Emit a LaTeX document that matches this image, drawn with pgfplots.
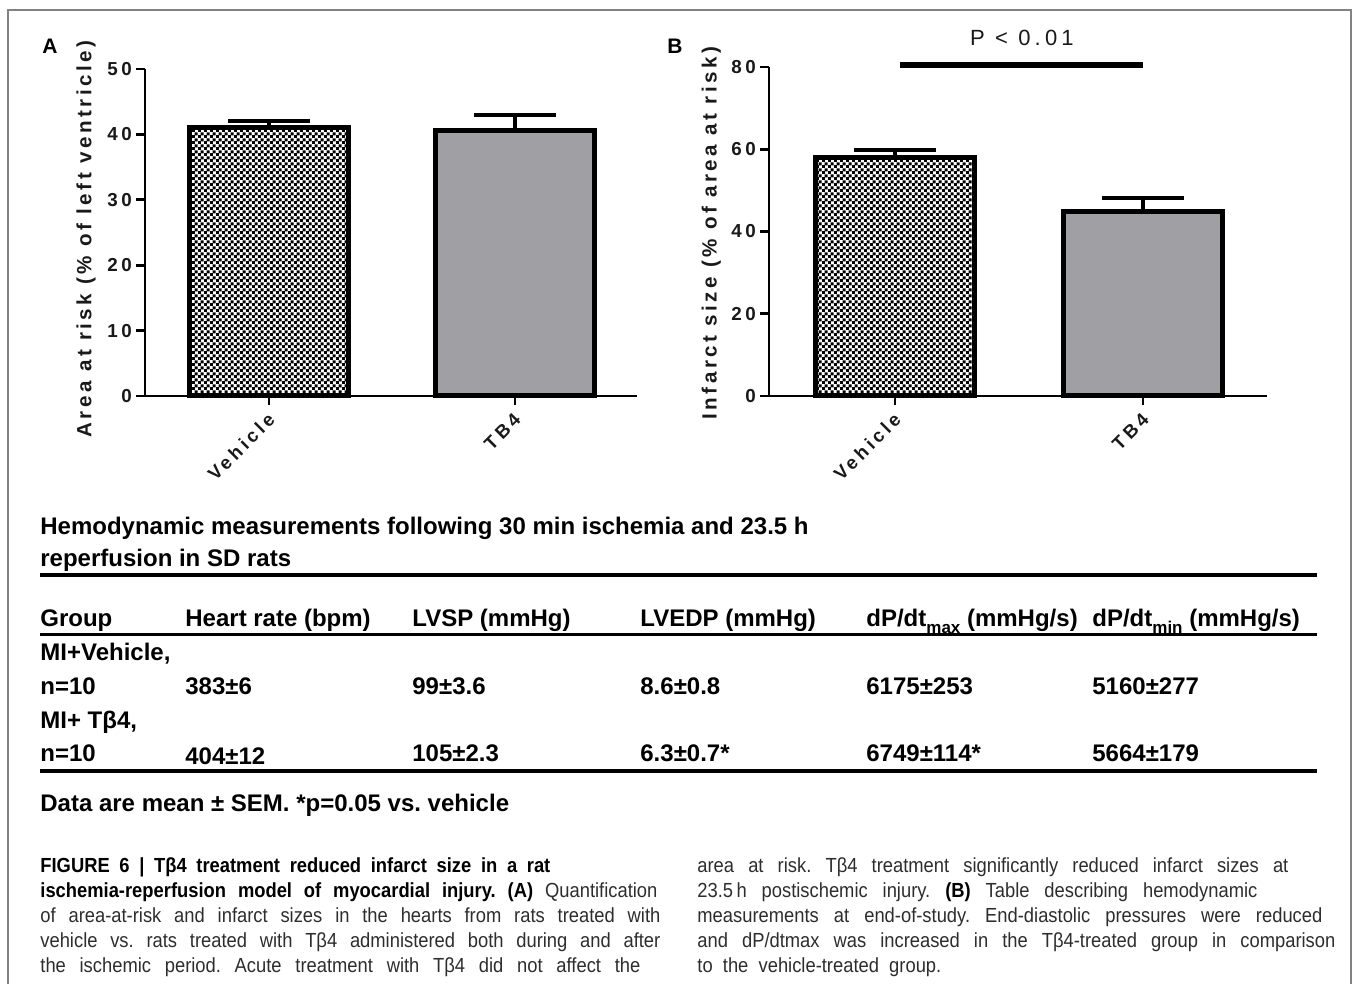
\documentclass[border=0pt]{standalone}
\usepackage{fontspec}
\setmainfont{Liberation Sans}
\newfontfamily\tickfont[LetterSpace=20]{Liberation Sans}
\newfontfamily\xtfont[LetterSpace=19]{Liberation Sans}
\newfontfamily\labfont[LetterSpace=17]{Liberation Sans}
\newfontfamily\pfont[LetterSpace=19]{Liberation Sans}
\newfontfamily\capfont[FakeStretch=0.9]{Liberation Sans}
\usepackage{pgfplots}
\pgfplotsset{compat=1.18}
\usetikzlibrary{patterns}
\pgfdeclarepatternformonly{finecheck}{\pgfpointorigin}{\pgfqpoint{3pt}{3pt}}{\pgfqpoint{3pt}{3pt}}{%
  \pgfpathrectangle{\pgfpointorigin}{\pgfqpoint{1.7pt}{1.7pt}}%
  \pgfpathrectangle{\pgfqpoint{1.5pt}{1.5pt}}{\pgfqpoint{1.7pt}{1.7pt}}%
  \pgfusepath{fill}}
\definecolor{tbgray}{RGB}{160,160,164}
\definecolor{captxt}{RGB}{45,45,45}
\definecolor{framegray}{RGB}{130,130,130}
\definecolor{axtxt}{RGB}{25,25,25}

\pgfplotsset{barax/.style={
  scale only axis, anchor=south west,
  axis x line*=bottom, axis y line*=left,
  axis line style={line width=1.4pt, -, black},
  ymin=0, clip=false,
  xtick={0,1}, xticklabels={Vehicle,TB4},
  tick style={line width=1.4pt, black},
  major tick length=4.5pt, tick align=outside,
  xticklabel style={yshift=-5pt, xshift=2pt, rotate=45, anchor=east, text=axtxt, font=\xtfont\bfseries\fontsize{9.3}{11}\selectfont, inner sep=1pt},
  yticklabel style={xshift=1.5pt, text=axtxt, font=\tickfont\bfseries\fontsize{9.4}{11}\selectfont},
  ylabel style={text=axtxt, font=\labfont\bfseries\fontsize{10.3}{12}\selectfont, anchor=center},
  vehbar/.style={ybar, draw=black, line width=2.5pt, fill=white, postaction={pattern=finecheck},
    error bars/.cd, y dir=plus, y explicit,
    error bar style={line width=2pt, black},
    error mark options={rotate=90, mark size=20.5pt, line width=2pt, black}},
  tbbar/.style={ybar, draw=black, line width=2.5pt, fill=tbgray,
    error bars/.cd, y dir=plus, y explicit,
    error bar style={line width=2pt, black},
    error mark options={rotate=90, mark size=20.5pt, line width=2pt, black}},
}}

\begin{document}
\frenchspacing
\begin{tikzpicture}[x=0.5pt,y=-0.5pt]
\path[use as bounding box] (0,0) rectangle (1357,984);
\draw[framegray, line width=0.9pt] (8,984) -- (8,10) -- (1351,10) -- (1351,984);

% Panel A
\begin{axis}[barax, at={(72.5pt,-198pt)}, width=246pt, height=163.5pt,
  xmin=-0.504, xmax=1.496, ymax=50, bar width=0.646,
  ytick={0,10,20,30,40,50}, yticklabels={0,10,20,30,40,50},
  ylabel={Area at risk (\% of left ventricle)},
  ylabel style={at={(axis description cs:-0.12,0.48)}}]
\addplot[vehbar] coordinates {(0,41.0) +- (0,1.1)};
\addplot[tbbar] coordinates {(1,40.6) +- (0,2.4)};
\end{axis}

% Panel B
\begin{axis}[barax, at={(384.5pt,-198pt)}, width=249pt, height=164.5pt,
  xmin=-0.508, xmax=1.5, ymax=80, bar width=0.641,
  ytick={0,20,40,60,80}, yticklabels={0,20,40,60,80},
  ylabel={Infarct size (\% of area at risk)},
  ylabel style={at={(axis description cs:-0.116,0.495)}}]
\addplot[vehbar] coordinates {(0,58.1) +- (0,1.7)};
\addplot[tbbar] coordinates {(1,44.9) +- (0,3.3)};
\addplot[black, line width=3pt, no marks] coordinates {(0.02,80.6) (1.0,80.6)};
\node[text=axtxt, font=\pfont\fontsize{11}{13}\selectfont] at (axis cs:0.512,87.0) {P < 0.01};
\end{axis}

\node[font=\bfseries\fontsize{10.5}{12}\selectfont] at (50,46) {A};
\node[font=\bfseries\fontsize{10.5}{12}\selectfont] at (675,46) {B};

% Table
\begin{scope}[every node/.style={anchor=base west, inner sep=0pt, font=\bfseries\fontsize{12}{14}\selectfont}]
\node at (40,535) {Hemodynamic measurements following 30 min ischemia and 23.5 h};
\node at (40,567) {reperfusion in SD rats};
\draw[line width=2pt] (40,575) -- (1317,575);
\node at (40,627) {Group};
\node at (185,627) {Heart rate (bpm)};
\node at (412,627) {LVSP (mmHg)};
\node at (640,627) {LVEDP (mmHg)};
\node at (866,627) {dP/dt\raisebox{-0.5ex}{\fontsize{8.5}{9}\selectfont max} (mmHg/s)};
\node at (1092,627) {dP/dt\raisebox{-0.5ex}{\fontsize{8.5}{9}\selectfont min} (mmHg/s)};
\draw[line width=1.5pt] (40,635) -- (1317,635);
\node at (40,661) {MI+Vehicle,};
\node at (40,695) {n=10};
\node at (185,695) {383±6};
\node at (412,695) {99±3.6};
\node at (640,695) {8.6±0.8};
\node at (866,695) {6175±253};
\node at (1092,695) {5160±277};
\node at (40,728) {MI+ Tβ4,};
\node at (40,762) {n=10};
\node at (185,764) {404±12};
\node at (412,762) {105±2.3};
\node at (640,762) {6.3±0.7*};
\node at (866,762) {6749±114*};
\node at (1092,762) {5664±179};
\draw[line width=1.8pt] (40,771) -- (1317,771);
\node at (40,811) {Data are mean ± SEM. *p=0.05 vs. vehicle};
\end{scope}

% Caption
\begin{scope}[every node/.style={anchor=base west, inner sep=0pt, text=captxt, font=\capfont\fontsize{10.2}{11}\selectfont}]
\node at (40,872) {\makebox[255pt][s]{\color{black}\bfseries FIGURE 6 | Tβ4 treatment reduced infarct size in a rat}};
\node at (40,897) {\makebox[308.5pt][s]{{\color{black}\bfseries ischemia-reperfusion model of myocardial injury. (A)} Quantification}};
\node at (40,922) {\makebox[310pt][s]{of area-at-risk and infarct sizes in the hearts from rats treated with}};
\node at (40,947) {\makebox[310pt][s]{vehicle vs. rats treated with Tβ4 administered both during and after}};
\node at (40,972) {\makebox[300pt][s]{the ischemic period. Acute treatment with Tβ4 did not affect the}};
\node at (697,872) {\makebox[295.5pt][s]{area at risk. Tβ4 treatment significantly reduced infarct sizes at}};
\node at (697,897) {\makebox[280pt][s]{23.5\,h postischemic injury. {\color{black}\bfseries (B)} Table describing hemodynamic}};
\node at (697,922) {\makebox[312.5pt][s]{measurements at end-of-study. End-diastolic pressures were reduced}};
\node at (697,947) {\makebox[319pt][s]{and dP/dtmax was increased in the Tβ4-treated group in comparison}};
\node at (697,972) {to\ \ the\ \ vehicle-treated\ \ group.};
\end{scope}
\end{tikzpicture}
\end{document}
